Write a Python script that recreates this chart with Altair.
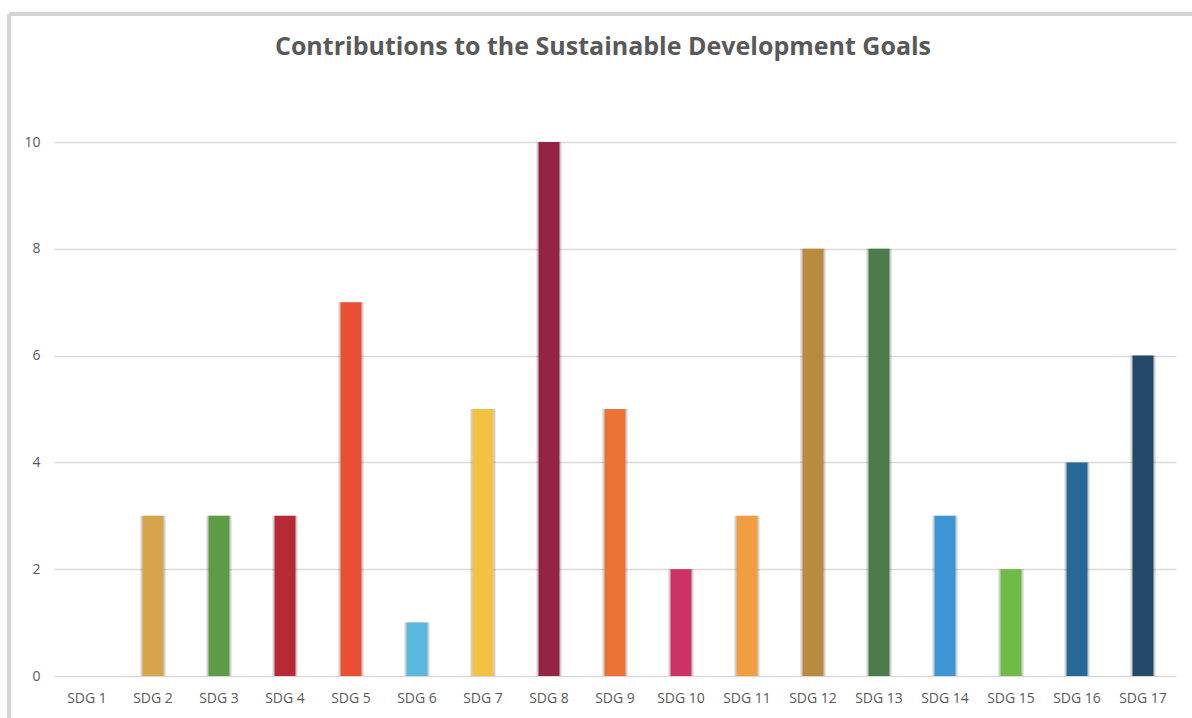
import altair as alt
import pandas as pd

categories = [f"SDG {i}" for i in range(1, 18)]
values = [0, 3, 3, 3, 7, 1, 5, 10, 5, 2, 3, 8, 8, 3, 2, 4, 6]
colors = ["#E5243B", "#D5A44C", "#5E9B45", "#B52A35", "#EA4E33", "#5BB8DD",
          "#F3C243", "#952343", "#EE7136", "#CD3266", "#F19E43", "#B88B3F",
          "#4D7C4B", "#3E95D3", "#70BB45", "#266898", "#234868"]
y_ticks = [0, 2, 4, 6, 8, 10]
title_text = "Contributions to the Sustainable Development Goals"

df = pd.DataFrame({"sdg": categories, "value": values, "color": colors})

FONT = "Open Sans"
GREY = "#595959"

x_enc = alt.X("sdg:N", sort=categories,
              scale=alt.Scale(paddingInner=0.68, paddingOuter=0.34),
              axis=alt.Axis(title=None, labelAngle=0, domain=False, ticks=False,
                            labelFont=FONT, labelFontSize=14, labelColor=GREY,
                            labelPadding=15))
y_enc = alt.Y("value:Q", scale=alt.Scale(domain=[0, 10], nice=False),
              axis=alt.Axis(title=None, values=y_ticks, domain=False, ticks=False,
                            labelFont=FONT, labelFontSize=14, labelColor=GREY,
                            labelPadding=14, gridColor="#d9d9d9", gridWidth=1.5))

shadow = alt.Chart(df).mark_bar(color="#000000", opacity=0.18, size=25).encode(
    x=x_enc, y=y_enc)
bars = alt.Chart(df).mark_bar(size=21).encode(
    x=alt.X("sdg:N", sort=categories),
    y=alt.Y("value:Q"),
    color=alt.Color("color:N", scale=None, legend=None),
)

frame_left = alt.Chart(df).mark_rule(color="#d4d4d4", strokeWidth=2.5).encode(
    x=alt.value(-45), y=alt.value(-128), y2=alt.value(600))
frame_top = alt.Chart(df).mark_rule(color="#d4d4d4", strokeWidth=2.5).encode(
    x=alt.value(-45), x2=alt.value(1200), y=alt.value(-128))

title = alt.Chart(pd.DataFrame({"t": [title_text]})).mark_text(
    font=FONT, fontSize=25, fontWeight="bold", color=GREY,
    align="center", baseline="middle").encode(
    text="t:N", x=alt.value(549), y=alt.value(-95))

chart = alt.layer(frame_left, frame_top, shadow, bars, title).properties(
    width=1122, height=534,
    autosize=alt.AutoSizeParams(type="none"),
    padding={"left": 54, "top": 142, "right": 16, "bottom": 42},
).configure_view(stroke=None)

chart.save("out.html", embed_options={"renderer": "svg", "actions": False})
